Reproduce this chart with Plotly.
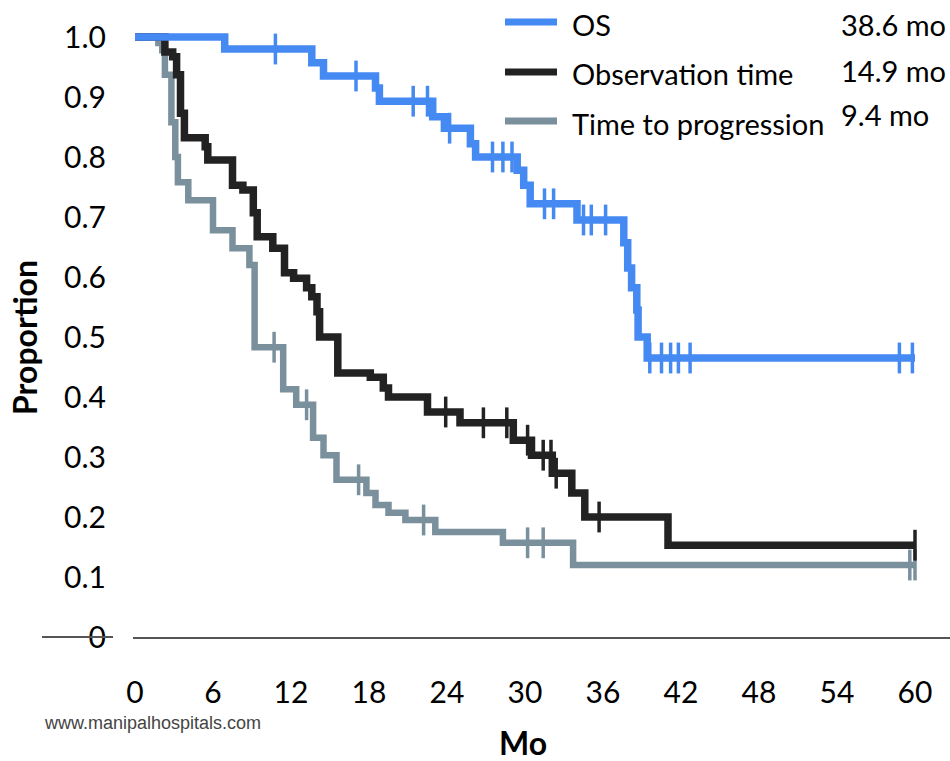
import plotly.graph_objects as go

# ---------------- data ----------------
os_t = [0, 6.9, 13.6, 14.5, 18.5, 18.8, 22.9, 23.8, 25.8, 26.2, 29.4, 29.9, 30.4,
        34.0, 37.6, 37.9, 38.2, 38.6, 38.7, 39.4, 60]
os_s = [1.0, 0.98, 0.957, 0.935, 0.915, 0.893, 0.867, 0.848, 0.822, 0.80, 0.778,
        0.753, 0.722, 0.695, 0.657, 0.615, 0.582, 0.545, 0.50, 0.465, 0.465]
os_cens = [10.8, 17.0, 21.4, 22.5, 24.2, 27.5, 28.3, 29.0, 31.5, 32.2, 34.5, 35.1,
           36.2, 39.6, 40.5, 41.2, 41.8, 42.7, 58.8, 59.8]

obs_t = [0, 2.3, 2.9, 3.2, 3.5, 3.8, 5.4, 5.6, 7.5, 8.3, 9.1, 9.4, 10.6, 11.5, 12.2,
         13.2, 13.6, 14.0, 14.2, 15.6, 18.1, 19.1, 19.5, 22.5, 25.0, 29.1, 30.5,
         32.1, 33.6, 34.6, 41.0, 60]
obs_s = [1.0, 0.975, 0.967, 0.937, 0.873, 0.832, 0.817, 0.795, 0.753, 0.745, 0.707,
         0.667, 0.648, 0.607, 0.598, 0.582, 0.567, 0.542, 0.50, 0.44, 0.433, 0.415,
         0.40, 0.375, 0.357, 0.328, 0.303, 0.273, 0.24, 0.20, 0.153, 0.153]
obs_cens = [23.9, 26.8, 28.6, 30.2, 31.4, 32.0, 32.4, 35.7, 60]

ttp_t = [0, 1.8, 2.1, 2.3, 2.8, 3.1, 3.3, 4.1, 6.0, 7.5, 8.8, 9.2, 11.4, 12.4, 13.7,
         14.5, 15.5, 17.8, 18.5, 19.5, 20.8, 23.1, 28.3, 33.7, 60]
ttp_s = [1.0, 0.99, 0.978, 0.937, 0.858, 0.80, 0.758, 0.728, 0.678, 0.648, 0.62,
         0.483, 0.413, 0.387, 0.332, 0.303, 0.262, 0.24, 0.22, 0.207, 0.195, 0.175,
         0.157, 0.12, 0.12]
ttp_cens = [10.7, 13.2, 17.2, 22.2, 30.2, 31.4, 59.6, 60]

series_names = ["OS", "Observation time", "Time to progression"]
medians = ["38.6 mo", "14.9 mo", "9.4 mo"]
x_ticks = [0, 6, 12, 18, 24, 30, 36, 42, 48, 54, 60]
y_ticks = [0, 0.1, 0.2, 0.3, 0.4, 0.5, 0.6, 0.7, 0.8, 0.9, 1.0]
y_tick_labels = ["0", "0.1", "0.2", "0.3", "0.4", "0.5", "0.6", "0.7", "0.8", "0.9", "1.0"]

# ---------------- styling ----------------
BLUE = "#4589f2"
BLACK = "#222222"
GREY = "#7a909c"
FONT = "Lato"


def step_value(ts, ss, t):
    v = ss[0]
    for ti, si in zip(ts, ss):
        if ti <= t:
            v = si
    return v


fig = go.Figure()

curves = [
    (ttp_t, ttp_s, ttp_cens, GREY, 6.5),
    (obs_t, obs_s, obs_cens, BLACK, 7.5),
    (os_t, os_s, os_cens, BLUE, 7.5),
]
for ts, ss, cens, col, w in curves:
    fig.add_trace(go.Scatter(x=ts, y=ss, mode="lines", line=dict(color=col, width=w, shape="hv"),
                             showlegend=False, hoverinfo="skip"))
    fig.add_trace(go.Scatter(x=cens, y=[step_value(ts, ss, c) for c in cens], mode="markers",
                             marker=dict(symbol="line-ns", size=22, line=dict(color=col, width=3.5)),
                             showlegend=False, hoverinfo="skip", cliponaxis=False))

# plot geometry: x=0 -> px 135, x=60 -> px 915 ; y=0 -> px 637, y=1 -> px 37
L, R, T, B = 133, 0, 0, 124
W, H = 950, 761
xr = [-(135 - L) / 13.0, 60 + (W - R - 915) / 13.0]
yr = [0, (H - B - T) / 600.0]

fig.update_layout(
    width=W, height=H,
    margin=dict(l=L, r=R, t=T, b=B),
    paper_bgcolor="white", plot_bgcolor="white",
    font=dict(family=FONT, size=29, color="black"),
    xaxis=dict(range=xr, tickvals=x_ticks, showgrid=False, zeroline=False,
               showline=True, linecolor="#555555", linewidth=2, ticks="",
               ticklabelstandoff=28, tickfont=dict(size=30, family=FONT, color="black")),
    yaxis=dict(range=yr, tickvals=y_ticks, ticktext=y_tick_labels, showgrid=False,
               zeroline=False, showline=False, ticks="", ticklabelstandoff=26,
               tickfont=dict(size=30, family=FONT, color="black")),
)

pw = W - L - R
ph = H - T - B


def px_x(p):
    return (p - L) / pw


def px_y(p):
    return (H - B - p) / ph


# short axis stub through the "0" label
fig.add_shape(type="line", xref="paper", yref="paper", x0=px_x(42), x1=px_x(113),
              y0=px_y(637), y1=px_y(637), line=dict(color="#555555", width=2))

# legend
leg_y = [22, 72, 121]
leg_cols = [BLUE, BLACK, GREY]
med_y = [24, 70, 115]
for name, col, yy, med, my in zip(series_names, leg_cols, leg_y, medians, med_y):
    fig.add_shape(type="line", xref="paper", yref="paper", x0=px_x(505), x1=px_x(557),
                  y0=px_y(yy), y1=px_y(yy), line=dict(color=col, width=7))
    fig.add_annotation(xref="paper", yref="paper", x=px_x(570), y=px_y(yy + 2), text=name,
                       showarrow=False, xanchor="left", yanchor="middle",
                       font=dict(family=FONT, size=29, color="black"))
    fig.add_annotation(xref="paper", yref="paper", x=px_x(839), y=px_y(my), text=med,
                       showarrow=False, xanchor="left", yanchor="middle",
                       font=dict(family=FONT, size=29, color="black"))

# axis titles
fig.add_annotation(xref="paper", yref="paper", x=px_x(25), y=px_y(338), text="<b>Proportion</b>",
                   textangle=-90, showarrow=False, xanchor="center", yanchor="middle",
                   font=dict(family=FONT, size=32, color="black"))
fig.add_annotation(xref="paper", yref="paper", x=px_x(523), y=px_y(742), text="<b>Mo</b>",
                   showarrow=False, xanchor="center", yanchor="middle",
                   font=dict(family=FONT, size=32, color="black"))

# watermark
fig.add_annotation(xref="paper", yref="paper", x=px_x(42), y=px_y(723),
                   text="www.manipalhospitals.com", showarrow=False, xanchor="left",
                   yanchor="middle", font=dict(family="Liberation Sans", size=18, color="#444444"))

fig.write_html("out.html")
